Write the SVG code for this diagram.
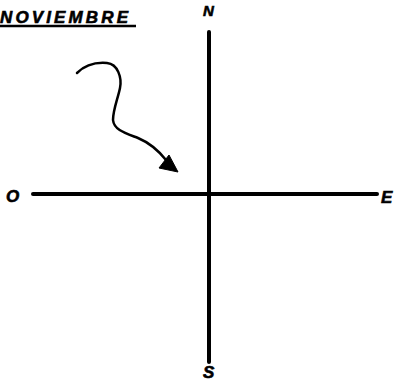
<svg xmlns="http://www.w3.org/2000/svg" width="402" height="382" viewBox="0 0 402 382">
<style>
.lbl{font-family:"Liberation Sans",Arial,sans-serif;font-weight:bold;font-style:italic;fill:#000;stroke:#000;stroke-width:0.6}
.axis{stroke:#000;stroke-width:4;stroke-linecap:round;fill:none}
</style>
<rect width="402" height="382" fill="#fff"/>
<g id="title">
<text class="lbl" x="0" y="23" font-size="17" textLength="128" lengthAdjust="spacing">NOVIEMBRE</text>
<line x1="0" y1="26" x2="136" y2="26" stroke="#000" stroke-width="2.5"/>
</g>
<g id="connectors">
<line id="ns-axis" class="axis" x1="209" y1="32" x2="209" y2="362"/>
<line id="oe-axis" class="axis" x1="33" y1="194" x2="377" y2="194"/>
<path id="curve" d="M77,73 C84,66 95,62 107,63 C118,64 122,78 120,88 C118,98 113,110 113,120 C114,130 125,133 138,138 C150,143 158,150 166,160" fill="none" stroke="#000" stroke-width="2.5" stroke-linecap="round"/>
<polygon id="arrowhead" points="169,155 159,168 178,172" fill="#000" stroke="#000" stroke-width="1" stroke-linejoin="round"/>
</g>
<g id="N"><text class="lbl" x="203" y="16" font-size="15">N</text></g>
<g id="S"><text class="lbl" x="203" y="378" font-size="17">S</text></g>
<g id="O"><text class="lbl" x="6" y="202" font-size="17">O</text></g>
<g id="E"><text class="lbl" x="381" y="203" font-size="17">E</text></g>
</svg>
